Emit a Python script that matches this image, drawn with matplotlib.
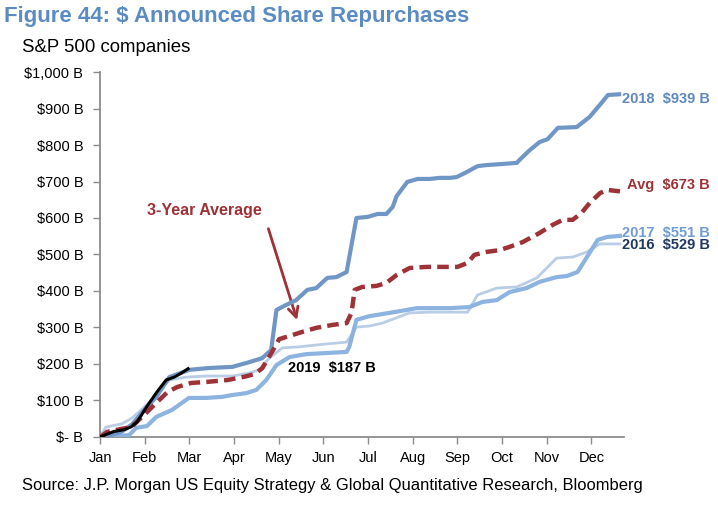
import matplotlib
matplotlib.use("Agg")
import matplotlib.pyplot as plt
from matplotlib import font_manager

# ---- data (x in months since Jan 1, values in $B) ----
months = ["Jan", "Feb", "Mar", "Apr", "May", "Jun", "Jul", "Aug", "Sep", "Oct", "Nov", "Dec"]
y_ticks = [0, 100, 200, 300, 400, 500, 600, 700, 800, 900, 1000]
y_labels = ["$- B", "$100 B", "$200 B", "$300 B", "$400 B", "$500 B",
            "$600 B", "$700 B", "$800 B", "$900 B", "$1,000 B"]

x2018 = [0, 0.25, 0.49, 0.72, 0.99, 1.26, 1.55, 2.0, 2.44, 2.96, 3.34, 3.63, 3.83, 3.95,
         4.17, 4.39, 4.64, 4.84, 5.09, 5.29, 5.52, 5.74, 5.99, 6.21, 6.41, 6.55, 6.64,
         6.88, 7.11, 7.38, 7.60, 7.83, 7.98, 8.21, 8.45, 8.65, 9.01, 9.33, 9.39, 9.62,
         9.84, 10.02, 10.25, 10.67, 10.96, 11.19, 11.37, 11.62]
v2018 = [0, 5, 15, 35, 74, 110, 164, 184, 189, 192, 205, 216, 238, 348,
         362, 375, 403, 408, 436, 438, 452, 600, 603, 611, 611, 630, 660,
         699, 707, 707, 710, 710, 712, 726, 742, 745, 748, 751, 759, 786,
         808, 816, 847, 849, 877, 910, 937, 939]

xavg = [0, 0.16, 0.47, 0.70, 0.87, 1.05, 1.28, 1.51, 1.73, 2.04, 2.40, 2.85, 3.23, 3.45,
        3.63, 3.86, 4.01, 4.30, 4.53, 4.84, 5.20, 5.52, 5.63, 5.70, 5.87, 6.19, 6.41,
        6.64, 6.93, 7.31, 8.00, 8.23, 8.38, 8.65, 8.95, 9.17, 9.46, 9.84, 10.13, 10.36,
        10.58, 10.78, 10.96, 11.19, 11.35, 11.64]
vavg = [0, 14, 22, 27, 47, 68, 96, 123, 137, 148, 151, 156, 165, 172,
        188, 235, 268, 279, 288, 299, 307, 312, 340, 403, 411, 414, 422,
        444, 463, 466, 466, 477, 499, 507, 512, 521, 534, 559, 581, 595,
        595, 614, 641, 668, 677, 673]

x2017 = [0, 0.65, 0.81, 1.05, 1.26, 1.61, 1.99, 2.38, 2.74, 2.96, 3.27, 3.50, 3.72, 3.95,
         4.24, 4.62, 5.07, 5.52, 5.58, 5.74, 6.03, 6.48, 6.86, 7.09, 7.83, 8.27, 8.56,
         8.88, 9.17, 9.55, 9.84, 10.22, 10.45, 10.69, 10.90, 11.14, 11.35, 11.64]
v2017 = [0, 5, 25, 30, 55, 74, 107, 107, 110, 115, 120, 129, 156, 197,
         219, 227, 230, 233, 247, 321, 331, 340, 348, 353, 353, 356, 370,
         375, 397, 408, 425, 438, 441, 452, 493, 540, 548, 551]

x2016 = [0, 0.13, 0.49, 0.72, 0.99, 1.26, 1.55, 1.93, 2.38, 2.96, 3.34, 3.56, 3.79, 4.08,
         4.46, 4.84, 5.52, 5.58, 5.74, 6.03, 6.32, 6.93, 7.38, 8.23, 8.45, 8.88, 9.33,
         9.78, 10.22, 10.58, 10.90, 11.19, 11.64]
v2016 = [0, 27, 36, 52, 82, 115, 156, 164, 167, 167, 175, 184, 216, 244,
         247, 252, 260, 271, 301, 304, 312, 340, 342, 342, 389, 408, 411,
         436, 490, 493, 507, 529, 529]

x2019 = [0, 0.16, 0.31, 0.54, 0.70, 0.83, 1.03, 1.26, 1.48, 1.66, 1.82, 1.97]
v2019 = [0, 8, 15, 20, 28, 41, 80, 121, 156, 164, 175, 187]

# ---- style ----
C2018 = "#7096C6"
C2017 = "#8DB3E0"
C2016 = "#B9CDE6"
CAVG = "#9E3236"
CTITLE = "#5A8CC3"

names = [f.name for f in font_manager.fontManager.ttflist]
NARROW = "Liberation Sans Narrow" if "Liberation Sans Narrow" in names else "Liberation Sans"
plt.rcParams["font.family"] = ["Liberation Sans", "DejaVu Sans"]

fig = plt.figure(figsize=(7.18, 5.05), dpi=100)
ax = fig.add_axes([0.1393, 0.1347, 0.7298, 0.7227])

ax.plot(x2016, v2016, color=C2016, lw=2.0, solid_joinstyle="round", zorder=2)
ax.plot(x2017, v2017, color=C2017, lw=3.0, solid_joinstyle="round", zorder=3)
ax.plot(x2018, v2018, color=C2018, lw=3.0, solid_joinstyle="round", zorder=4)
ax.plot(xavg, vavg, color=CAVG, lw=3.2, ls=(0, (2.6, 1.4)), zorder=5)
ax.plot(x2019, v2019, color="black", lw=2.2, zorder=6)

ax.set_xlim(0, 11.73)
ax.set_ylim(0, 1000)
ax.set_xticks(range(12))
ax.set_xticklabels(months)
ax.set_yticks(y_ticks)
ax.set_yticklabels(y_labels)

for s in ["top", "right"]:
    ax.spines[s].set_visible(False)
for s in ["left", "bottom"]:
    ax.spines[s].set_color("#8C8C8C")
    ax.spines[s].set_linewidth(1.3)
ax.tick_params(axis="both", colors="#8C8C8C", length=5, width=1)
ax.tick_params(axis="y", pad=7)
ax.tick_params(axis="x", pad=5)
for lab in ax.get_xticklabels() + ax.get_yticklabels():
    lab.set_color("black")
    lab.set_fontfamily(NARROW)
    lab.set_fontsize(10.5)

# end labels
ax.text(11.68, 925, "2018  $939 B", color="#5F88BC", fontsize=10.5, fontweight="bold",
        family=NARROW, va="center", ha="left", clip_on=False)
ax.text(11.8, 690, "Avg  $673 B", color=CAVG, fontsize=10.5, fontweight="bold",
        family=NARROW, va="center", ha="left", clip_on=False)
ax.text(11.68, 560, "2017  $551 B", color="#6F9CD2", fontsize=10.5, fontweight="bold",
        family=NARROW, va="center", ha="left", clip_on=False)
ax.text(11.68, 525, "2016  $529 B", color="#1F3864", fontsize=10.5, fontweight="bold",
        family=NARROW, va="center", ha="left", clip_on=False)
ax.text(4.2, 190, "2019  $187 B", color="black", fontsize=10.5, fontweight="bold",
        family=NARROW, va="center", ha="left")

ax.text(1.06, 620, "3-Year Average", color=CAVG, fontsize=11.5, fontweight="bold",
        va="center", ha="left")
ax.annotate("", xy=(4.43, 313), xytext=(3.75, 578),
            arrowprops=dict(arrowstyle="->", color=CAVG, lw=2.0,
                            mutation_scale=18))

fig.text(0.006, 0.967, "Figure 44: $ Announced Share Repurchases", color=CTITLE,
         fontsize=16, fontweight="bold", va="center", ha="left")
fig.text(0.031, 0.906, "S&P 500 companies", color="black", fontsize=13.4,
         va="center", ha="left")
fig.text(0.031, 0.038, "Source: J.P. Morgan US Equity Strategy & Global Quantitative Research, Bloomberg",
         color="black", fontsize=11.9, family=NARROW, va="center", ha="left")

fig.savefig("out.png", dpi=100)
